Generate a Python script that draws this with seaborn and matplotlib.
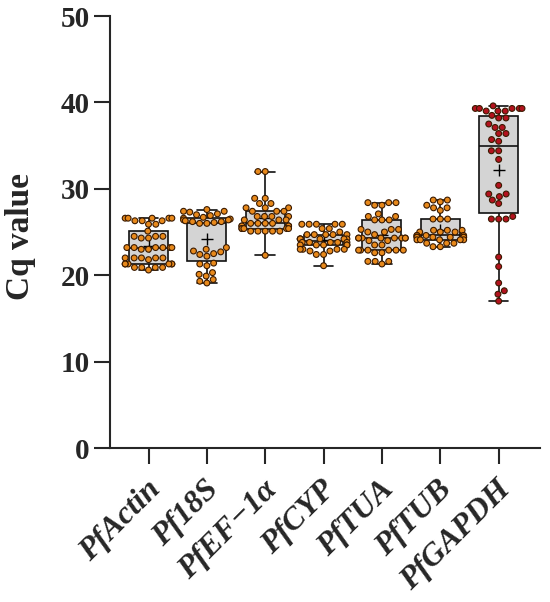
import numpy as np
import pandas as pd
import matplotlib
matplotlib.use("Agg")
import matplotlib.pyplot as plt
import matplotlib.transforms as mtransforms
import seaborn as sns

genes = ["PfActin", "Pf18S", "PfEF\u22121\u03b1", "PfCYP", "PfTUA", "PfTUB", "PfGAPDH"]

actin = [26.6]*5 + [26.3]*3 + [25.9]*2 + [25.1] + [24.5]*3 + [24.3]*2 + [23.2]*6 + [23.0]*2 + \
        [22.0]*5 + [21.8] + [21.3]*6 + [20.9]*4 + [20.6]
pf18s = [27.6, 27.4, 27.4, 27.3, 27.1, 27.0, 26.9, 26.7, 26.6, 26.5, 26.4, 26.4, 26.3, 26.2,
         26.2, 26.1, 26.0, 26.0,
         23.2, 23.0, 22.8, 22.7, 22.5, 22.4, 22.2, 21.4, 21.3, 21.1, 20.3, 20.1, 19.9, 19.5,
         19.3, 19.1]
ef1a = [32.0]*2 + [28.9]*2 + [28.3]*2 + [27.8]*3 + [27.4]*3 + [26.8]*4 + [26.4]*3 + \
       [26.0]*4 + [25.7]*5 + [25.4]*5 + [25.1]*5 + [22.3]
cyp = [25.9]*5 + [25.4]*2 + [25.0] + [24.7]*5 + [24.2]*6 + [23.8]*5 + [23.5]*5 + \
      [23.0]*4 + [22.8]*2 + [22.4]*2 + [21.1]
tua = [28.4]*3 + [28.1]*2 + [27.1] + [26.8]*2 + [26.4]*3 + [25.3]*3 + [25.0]*2 + [24.7] + \
      [24.3]*8 + [24.0]*2 + [23.5]*2 + [22.9]*6 + [22.6]*2 + [21.6]*3 + [21.3]
tub = [28.7]*2 + [28.5] + [28.1] + [27.8]*2 + [27.5] + [26.5]*3 + [25.2]*3 + [25.0]*3 + \
      [24.6]*4 + [24.4]*6 + [24.1]*5 + [23.7]*3 + [23.3]*2
gapdh = [39.6] + [39.3]*5 + [39.0]*3 + [38.5] + [38.2]*2 + [37.5] + [37.1]*2 + [36.4]*2 + \
        [35.7] + [35.5] + [34.4]*2 + [33.4] + [30.4] + [29.4]*2 + [29.1] + [28.7] + [28.3] + \
        [26.8] + [26.5]*3 + [22.1] + [21.0] + [19.1] + [18.2] + [17.8] + [17.0]

values = [actin, pf18s, ef1a, cyp, tua, tub, gapdh]
df = pd.DataFrame({
    "gene": np.repeat(genes, [len(v) for v in values]),
    "cq": np.concatenate(values),
})

orange = "#E8891B"
red = "#B3121E"
palette = {g: orange for g in genes}
palette["PfGAPDH"] = red

sns.set_style("ticks")
plt.rcParams["font.family"] = ["Liberation Serif", "DejaVu Serif"]
plt.rcParams["font.weight"] = "bold"

fig = plt.figure(figsize=(5.5, 6.02), dpi=100)
ax = fig.add_axes([0.2, 0.2558, 0.782, 0.7176])

sns.boxplot(data=df, x="gene", y="cq", order=genes, whis=(0, 100), width=0.67,
            color="#D4D4D4", linecolor="#111111", linewidth=1.2, fliersize=0,
            showmeans=True,
            meanprops=dict(marker="+", markeredgecolor="black", markersize=9,
                           markeredgewidth=1.0),
            saturation=1, ax=ax, zorder=1)
sns.swarmplot(data=df, x="gene", y="cq", order=genes, hue="gene", palette=palette,
              size=4.2, edgecolor="#3A1A00", linewidth=0.8, legend=False, ax=ax, zorder=3)

ax.set_ylim(0, 50)
ax.set_xlim(-0.66, 6.71)
ax.set_yticks([0, 10, 20, 30, 40, 50])
ax.set_xlabel("")
ax.set_ylabel("Cq value", fontsize=24, fontweight="bold")
ax.yaxis.set_label_coords(-0.172, 0.49)
sns.despine(ax=ax)
for s in ["left", "bottom"]:
    ax.spines[s].set_linewidth(1.5)
ax.tick_params(axis="both", length=11.5, width=1.5, labelsize=21, pad=3)
for lab in ax.get_yticklabels():
    lab.set_fontweight("bold")
ax.set_xticks(range(len(genes)))
ax.set_xticklabels(genes, rotation=45, ha="right", va="top", rotation_mode="anchor",
                   fontsize=23, fontweight="bold", fontstyle="italic")
ax.tick_params(axis="x", pad=8)
offset = mtransforms.ScaledTranslation(-2 / 72, 0, fig.dpi_scale_trans)
for lab in ax.get_xticklabels():
    lab.set_transform(lab.get_transform() + offset)

fig.savefig("out.png", dpi=100)
